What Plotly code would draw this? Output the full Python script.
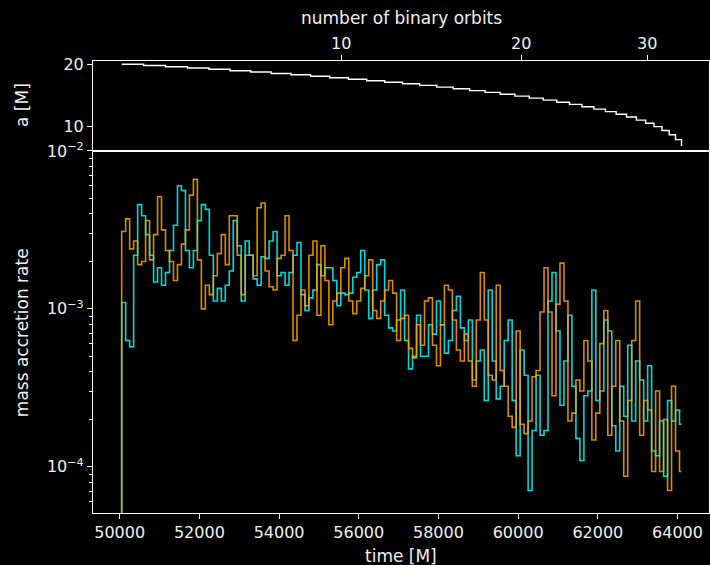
import numpy as np
import plotly.graph_objects as go

# ---------------- data ----------------
# binary separation a [M] (stepped, one value per orbit)
a_time = [50050, 50600, 51150, 51700, 52240, 52770, 53290, 53800, 54300, 54790,
          55270, 55740, 56200, 56650, 57100, 57530, 57960, 58370, 58780, 59170,
          59550, 59920, 60280, 60630, 60970, 61290, 61600, 61900, 62190, 62460,
          62720, 62970, 63200, 63410, 63610, 63790, 63950, 64100]
a_sep = [19.98, 19.79, 19.59, 19.38, 19.17, 18.95, 18.73, 18.51, 18.29, 18.06,
         17.83, 17.59, 17.35, 17.10, 16.85, 16.59, 16.32, 16.05, 15.76, 15.48,
         15.18, 14.88, 14.56, 14.23, 13.89, 13.55, 13.18, 12.80, 12.40, 11.98,
         11.53, 11.04, 10.53, 9.99, 9.38, 8.69, 7.91, 6.88]

# number of binary orbits at given times
orbit_ticks = [10, 20, 30]
orbit_tick_time = [55560, 60075, 63240]

# accretion-rate bins (100 M wide), log10 of mass accretion rate
bin_start = list(range(50050, 64100, 100))
bin_end = 64100
log_mdot_cyan = [
    -2.96, -3.20, -3.24, -2.66, -2.34, -2.41, -2.53, -2.66, -2.83, -2.74,
    -2.85, -2.77, -2.63, -2.47, -2.22, -2.25, -2.63, -2.74, -2.63, -2.44,
    -2.34, -2.37, -2.66, -2.95, -2.87, -2.95, -2.85, -2.76, -2.44, -2.60,
    -2.95, -2.57, -2.66, -2.81,
    -2.85, -2.67, -2.68, -2.57, -2.51, -2.79, -2.77, -2.85, -2.77, -2.66,
    -2.58, -2.91, -3.01, -2.93, -2.88, -2.72, -2.79, -2.74, -2.74, -2.82,
    -2.98, -2.90, -2.91, -2.90, -2.80, -2.77, -2.63, -2.88, -3.06, -2.88,
    -2.72, -2.69, -3.04, -3.12, -3.14, -3.07,
    -2.88, -3.20, -3.38, -3.30, -3.04, -3.30, -3.30, -3.10, -3.16, -2.95,
    -3.10, -3.28, -3.20, -3.01, -2.92, -3.12, -3.20, -3.07, -3.45, -3.33,
    -3.26, -3.58, -2.88, -3.33, -3.57, -3.49, -3.20, -3.07, -3.58, -3.93,
    -3.26, -3.42, -4.15, -3.77, -3.42, -3.80,
    -3.77, -2.95, -2.77, -3.14, -3.61, -3.33, -3.04, -3.49, -3.82, -3.96,
    -3.55, -3.52, -2.88, -3.58, -3.52, -3.07, -3.14, -3.74, -3.90, -3.49,
    -3.68, -3.23, -3.71, -3.33, -3.45, -3.71, -3.36, -3.90, -3.93, -3.71,
    -4.06, -3.58, -3.71, -3.64, -3.73]
log_mdot_orange = [
    -2.51, -2.43, -2.62, -2.57, -2.72, -2.70, -2.44, -2.69, -2.53, -2.29,
    -2.50, -2.63, -2.70, -2.82, -2.72, -2.59, -2.50, -2.28, -2.18, -2.69,
    -3.00, -2.85, -2.91, -2.79, -2.65, -2.53, -2.72, -2.41, -2.41, -2.66,
    -2.91, -2.66, -2.66, -2.79,
    -2.36, -2.33, -2.76, -2.86, -2.88, -2.68, -2.66, -2.41, -2.63, -3.20,
    -3.04, -2.88, -2.98, -2.66, -2.57, -3.04, -2.60, -2.82, -3.10, -2.95,
    -2.90, -2.74, -2.68, -2.95, -3.03, -2.95, -2.87, -2.79, -2.69, -3.01,
    -3.06, -2.95, -2.88, -2.82, -2.90, -3.20,
    -3.06, -3.04, -3.25, -3.31, -3.10, -3.23, -2.95, -2.93, -3.23, -3.36,
    -3.10, -2.85, -2.88, -3.07, -3.26, -3.33, -3.16, -3.33, -3.49, -3.07,
    -2.77, -3.07, -3.42, -3.45, -2.85, -3.39, -3.49, -3.68, -3.75, -3.14,
    -3.73, -3.79, -3.71, -3.43, -3.39, -3.02,
    -2.74, -3.02, -3.55, -2.97, -2.71, -2.95, -3.71, -3.66, -3.45, -3.52,
    -3.20, -3.33, -3.83, -3.66, -3.22, -3.01, -3.80, -3.49, -3.20, -3.71,
    -4.06, -3.58, -3.20, -2.95, -3.80, -3.58, -3.64, -4.03, -3.52, -4.03,
    -3.70, -4.15, -3.49, -3.90, -4.03]

x_major = [50000, 52000, 54000, 56000, 58000, 60000, 62000, 64000]

# ---------------- figure ----------------
FONT = "DejaVu Sans"
FS = 16
FS_LABEL = 17
WHITE = "#ffffff"
TEXT = "#f0f0f0"

def step_xy(logvals):
    x = [bin_start[0]] + bin_start + [bin_end]
    v = [10 ** s for s in logvals]
    y = [1e-7] + v + [v[-1]]
    return x, y

fig = go.Figure()

xc, yc = step_xy(log_mdot_cyan)
xo, yo = step_xy(log_mdot_orange)
fig.add_trace(go.Scatter(x=xc, y=yc, mode="lines", line=dict(color="#00ffff", width=1.6, shape="hv"),
                         opacity=0.85, xaxis="x", yaxis="y", showlegend=False, hoverinfo="skip"))
fig.add_trace(go.Scatter(x=xo, y=yo, mode="lines", line=dict(color="#ffa500", width=1.6, shape="hv"),
                         opacity=0.85, xaxis="x", yaxis="y", showlegend=False, hoverinfo="skip"))

fig.add_trace(go.Scatter(x=a_time, y=a_sep, mode="lines", line=dict(color=WHITE, width=1.4, shape="hv"),
                         xaxis="x2", yaxis="y2", showlegend=False, hoverinfo="skip"))
fig.add_trace(go.Scatter(x=a_time, y=a_sep, mode="lines", line=dict(color=WHITE, width=0),
                         opacity=0, xaxis="x3", yaxis="y2", showlegend=False, hoverinfo="skip"))

xr = [49330, 64790]
split = 0.801
axis_common = dict(showline=True, linecolor=WHITE, linewidth=1.1, mirror=True, showgrid=False,
                   zeroline=False, ticks="outside", ticklen=5, tickwidth=1.1, tickcolor=WHITE,
                   tickfont=dict(family=FONT, size=FS, color=TEXT))

minor_vals = []
for dec in [1e-5, 1e-4, 1e-3]:
    for m in range(2, 10):
        minor_vals.append(m * dec)

fig.update_layout(
    width=710, height=565,
    paper_bgcolor="black", plot_bgcolor="black",
    margin=dict(l=93, r=1, t=61, b=52),
    font=dict(family=FONT, size=FS, color=TEXT),
    xaxis=dict(axis_common, domain=[0, 1], anchor="y", range=xr, tickmode="array", tickvals=x_major,
               ticktext=[str(v) for v in x_major]),
    yaxis=dict(axis_common, domain=[0, split], anchor="x", type="log", range=[np.log10(5.1e-5), -2.0],
               tickmode="array", tickvals=[1e-4, 1e-3, 1e-2],
               ticktext=["10<sup>−4</sup>", "10<sup>−3</sup>", "10<sup>−2</sup>"],
               minor=dict(tickmode="array", tickvals=minor_vals, ticks="outside", ticklen=3,
                          tickwidth=1, tickcolor=WHITE, showgrid=False)),
    xaxis2=dict(axis_common, domain=[0, 1], anchor="y2", range=xr, matches="x",
                showticklabels=False, ticks=""),
    yaxis2=dict(axis_common, domain=[split, 1], anchor="x2", range=[6.1, 20.5],
                tickmode="array", tickvals=[10, 20], ticktext=["10", "20"]),
    xaxis3=dict(axis_common, overlaying="x2", side="top", anchor="y2", range=xr,
                tickmode="array", tickvals=orbit_tick_time, ticktext=[str(v) for v in orbit_ticks],
                mirror=False, showline=False),
)

ann = dict(xref="paper", yref="paper", showarrow=False, font=dict(family=FONT, size=FS_LABEL, color=TEXT))
fig.add_annotation(ann, text="time [M]", x=0.5, y=-0.095, xanchor="center", yanchor="middle")
fig.add_annotation(ann, text="number of binary orbits", x=0.5, y=1.095, xanchor="center", yanchor="middle")
fig.add_annotation(ann, text="mass accretion rate", x=-0.1153, y=0.40, textangle=-90,
                   xanchor="center", yanchor="middle")
fig.add_annotation(ann, text="a [M]", x=-0.1153, y=0.9027, textangle=-90,
                   xanchor="center", yanchor="middle")

fig.write_html("out.html", config={"displayModeBar": False},
               post_script="document.body.style.margin='0';document.body.style.background='black';")
